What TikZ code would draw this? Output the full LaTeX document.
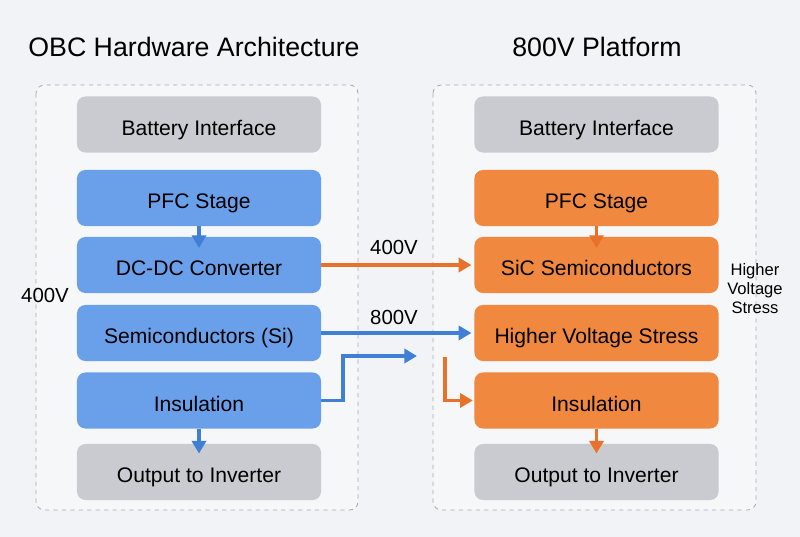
\documentclass[tikz,border=0pt]{standalone}
\usepackage{fontspec}
\setsansfont{Liberation Sans}
\usetikzlibrary{arrows.meta}
\definecolor{pagebg}{HTML}{F2F3F6}
\definecolor{panelbg}{HTML}{F6F7F9}
\definecolor{panelln}{HTML}{A9ABB0}
\definecolor{boxblue}{HTML}{6AA0EA}
\definecolor{boxorange}{HTML}{F0883F}
\definecolor{boxgray}{HTML}{C9CBD0}
\definecolor{lnblue}{HTML}{3F7FD6}
\definecolor{lnorange}{HTML}{E8722A}
\begin{document}
\begin{tikzpicture}[x=0.025cm, y=-0.025cm, font=\sffamily,
  blk/.style={rounded corners=6pt, minimum width=6.1cm, minimum height=1.4cm, inner sep=0pt, text height=15pt, text depth=0pt, font=\sffamily\fontsize{15}{17}\selectfont},
  blkgray/.style={blk, fill=boxgray},
  blkblue/.style={blk, fill=boxblue},
  blkorange/.style={blk, fill=boxorange},
  panel/.style={draw=panelln, dashed, fill=panelbg, rounded corners=6pt, line width=0.6pt},
  ttl/.style={font=\sffamily\fontsize{19}{22}\selectfont},
  volt/.style={font=\sffamily\fontsize{14.5}{16}\selectfont},
  flow/.style={line width=2.4pt, -{Triangle[length=9pt, width=10pt]}}]
  % page and panels
  \fill[pagebg] (0,0) rectangle (800,537);
  \path[panel] (36,85) rectangle (358,510);
  \path[panel] (433,85) rectangle (756,510);
  \node[ttl] (ttlL) at (194,47) {OBC Hardware Architecture};
  \node[ttl] (ttlR) at (597,47) {800V Platform};
  % left column
  \node[blkgray]   (batL) at (199,124.5) {Battery Interface};
  \node[blkblue]   (pfcL) at (199,198)   {PFC Stage};
  \node[blkblue]   (dcL)  at (199,265)   {DC-DC Converter};
  \node[blkblue]   (semL) at (199,333)   {Semiconductors (Si)};
  \node[blkblue]   (insL) at (199,400.5) {Insulation};
  \node[blkgray]   (outL) at (199,472)   {Output to Inverter};
  % right column
  \node[blkgray]   (batR) at (596.5,124.5) {Battery Interface};
  \node[blkorange] (pfcR) at (596.5,198)   {PFC Stage};
  \node[blkorange] (sicR) at (596.5,265)   {SiC Semiconductors};
  \node[blkorange] (hvsR) at (596.5,333)   {Higher Voltage Stress};
  \node[blkorange] (insR) at (596.5,400.5) {Insulation};
  \node[blkgray]   (outR) at (596.5,472)   {Output to Inverter};
  % labels
  \node[volt] (vL)  at (45,295)  {400V};
  \node[volt] (v4)  at (394,247) {400V};
  \node[volt] (v8)  at (394,317) {800V};
  \node[font=\sffamily\fontsize{11.8}{13.5}\selectfont, align=center] (hvs) at (755,289) {Higher\\Voltage\\Stress};
  % connectors
  \draw[flow, lnblue] (pfcL.south) -- ([yshift=-8pt]dcL.north);
  \draw[flow, lnblue] (insL.south) -- ([yshift=-7pt]outL.north);
  \draw[flow, lnorange] (pfcR.south) -- ([yshift=-8pt]sicR.north);
  \draw[flow, lnorange] (insR.south) -- ([yshift=-7pt]outR.north);
  \draw[flow, lnorange, shorten >=2pt] (dcL.east) -- (sicR.west);
  \draw[flow, lnblue, shorten >=2pt] (semL.east) -- (hvsR.west);
  \coordinate (bendB) at (417,356);
  \draw[flow, lnblue] (insL.east) -| (343,356) -- (bendB);
  \coordinate (startO) at (445,357);
  \draw[flow, lnorange, shorten >=1pt] (startO) |- (insR.west);
\end{tikzpicture}
\end{document}
